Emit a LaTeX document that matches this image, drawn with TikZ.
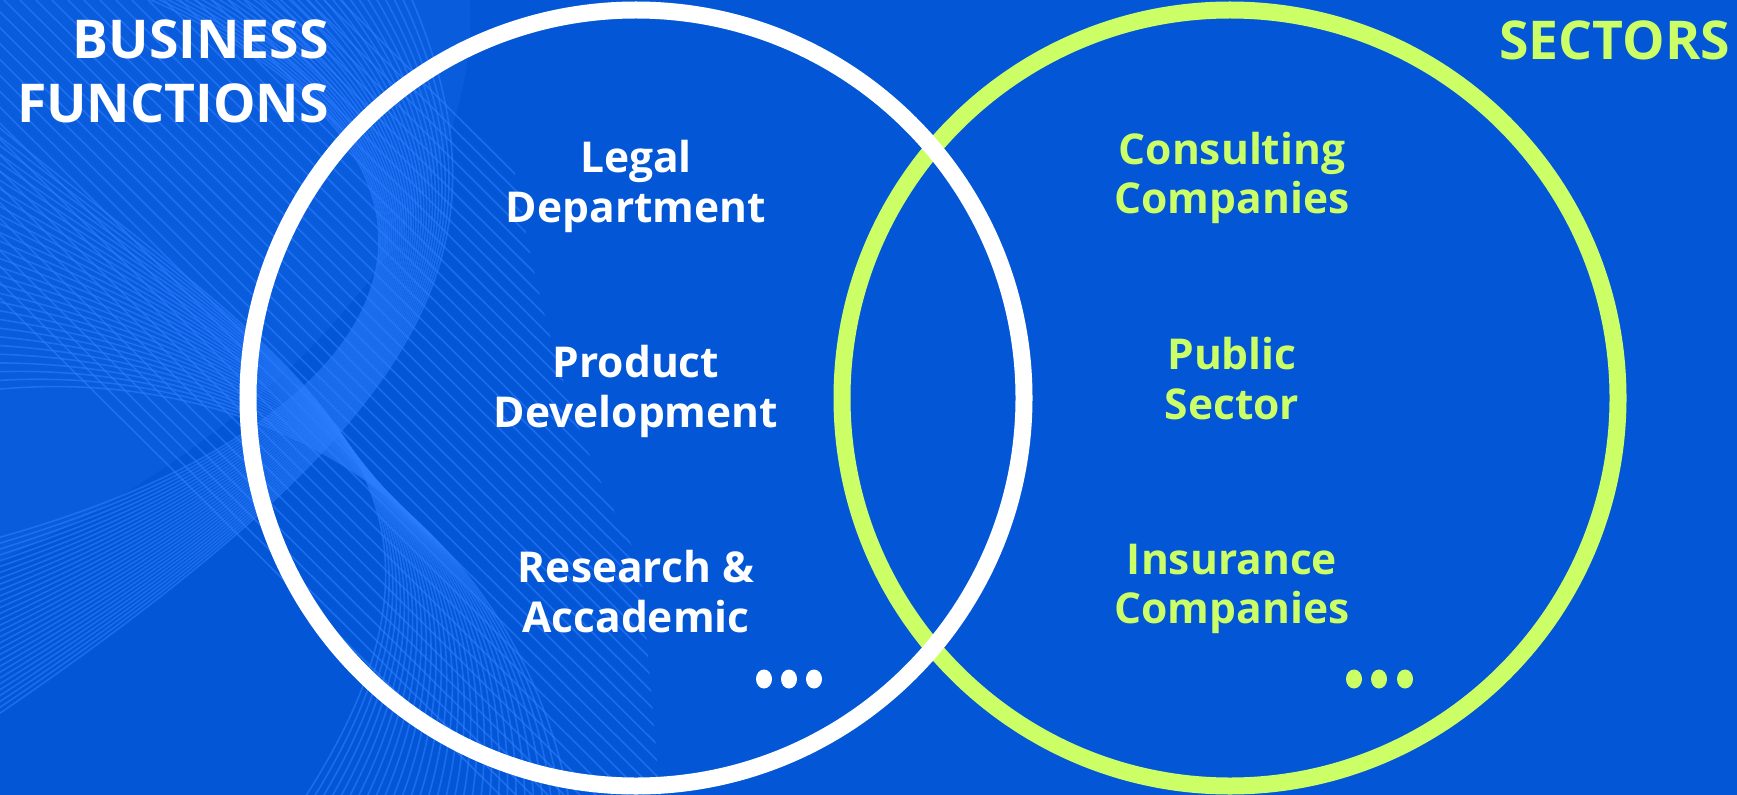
\documentclass[tikz,border=0pt]{standalone}
\usepackage{fontspec}
\setmainfont{Open Sans}
\definecolor{bgblue}{RGB}{3,87,214}
\definecolor{lineblue}{RGB}{45,125,255}
\definecolor{lime}{RGB}{204,255,102}
\begin{document}
\begin{tikzpicture}[x=1bp,y=-1bp,
  title/.style={font=\fontsize{53.5bp}{65bp}\selectfont\bfseries, anchor=base east, inner sep=0pt},
  lbl/.style={font=\fontsize{42.5bp}{50bp}\selectfont\bfseries, anchor=base, inner sep=0pt},
  ring/.style={line width=17bp},
  pat/.style={draw=lineblue, line width=1.6bp, opacity=0.6}
]
\fill[bgblue] (0,0) rectangle (1737,795);
\useasboundingbox (0,0) rectangle (1737,795);
% decorative background pattern
\begin{scope}
\clip (0,0) -- (490,0) .. controls (520,250) and (560,420) .. (640,560) -- (660,795) -- (0,795) -- cycle;
\fill[lineblue, opacity=0.15] (0,0) -- (470,0) .. controls (480,200) and (300,420) .. (0,560) -- cycle;
\foreach \i in {0,...,40}{
  \draw[pat] (-300+\i*16,0) -- (500+\i*16,795);
}
\foreach \i in {0,...,30}{
  \draw[pat] (140+\i*9,-5) .. controls (520,160+\i*3) and (430,420) .. (-10,540+\i*6);
}
\foreach \i in {0,...,30}{
  \draw[pat] (-10,120+\i*9) .. controls (280,360) and (520,470+\i*2) .. (300+\i*9,805);
}
\end{scope}
% circles
\draw[ring, lime] (1230,398) circle[radius=388bp];
\draw[ring, white] (636,398) circle[radius=388bp];
% titles
\node[title, text=white] (t1a) at (329,59) {BUSINESS};
\node[title, text=white] (t1b) at (329,122) {FUNCTIONS};
\node[title, text=lime] (t2) at (1730,60) {SECTORS};
% left labels
\node[lbl, text=white] (l1a) at (636,172) {Legal};
\node[lbl, text=white] (l1b) at (636,222) {Department};
\node[lbl, text=white] (l2a) at (636,377) {Product};
\node[lbl, text=white] (l2b) at (636,427) {Development};
\node[lbl, text=white] (l3a) at (636,582) {Research \&};
\node[lbl, text=white] (l3b) at (636,632) {Accademic};
% right labels
\node[lbl, text=lime] (r1a) at (1232,164) {Consulting};
\node[lbl, text=lime] (r1b) at (1232,213) {Companies};
\node[lbl, text=lime] (r2a) at (1232,369) {Public};
\node[lbl, text=lime] (r2b) at (1232,419) {Sector};
\node[lbl, text=lime] (r3a) at (1232,574) {Insurance};
\node[lbl, text=lime] (r3b) at (1232,623) {Companies};
% dots
\foreach \x in {764,789,814}{
  \fill[white] (\x,679) ellipse[x radius=8bp, y radius=9.5bp];
}
\foreach \x in {1354,1379,1405}{
  \fill[lime] (\x,679) ellipse[x radius=8bp, y radius=9.5bp];
}
\end{tikzpicture}
\end{document}
